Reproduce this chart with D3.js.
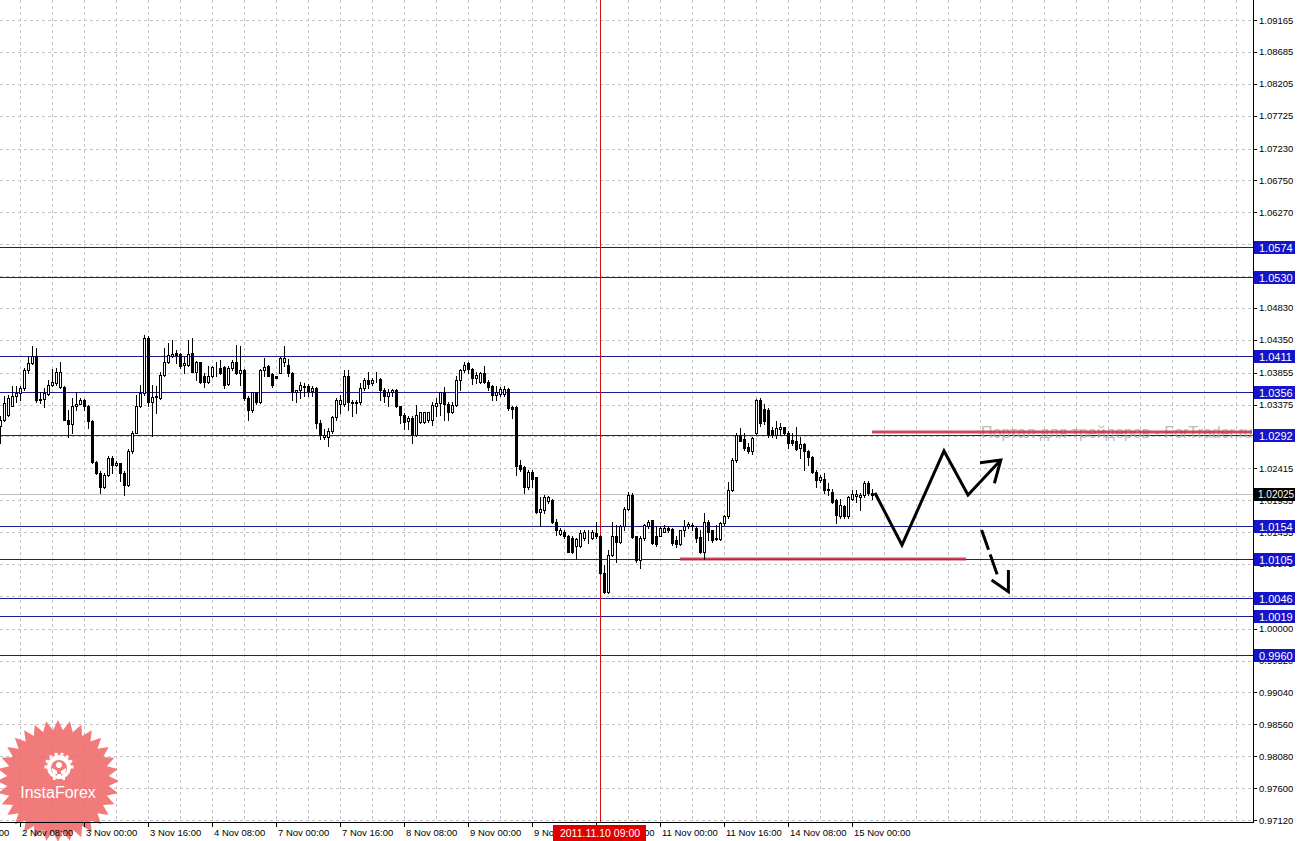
<!DOCTYPE html>
<html>
<head>
<meta charset="utf-8">
<script src="https://cdn.jsdelivr.net/npm/d3@7"></script>
<style>
  body{margin:0;background:#fff;overflow:hidden}
  text{font-family:"Liberation Sans",Arial,sans-serif}
</style>
</head>
<body>
<div class="chart"></div>
<script>
// EURUSD-like H1 candles, bar 0 = 2 Nov 03:00
const open = [
1.0305,1.0315,1.0322,1.0336,1.0350,1.0355,1.0362,1.0390,1.0400,1.0410,1.0346,1.0346,1.0354,1.0367,1.0370,1.0364,1.0364,1.0315,1.0308,1.0335,
1.0339,1.0345,1.0336,1.0312,1.0251,1.0235,1.0214,1.0232,1.0257,1.0247,1.0249,1.0235,1.0217,1.0267,1.0294,1.0336,1.0355,1.0437,1.0342,1.0349,
1.0347,1.0382,1.0402,1.0411,1.0415,1.0414,1.0397,1.0397,1.0415,1.0387,1.0401,1.0380,1.0371,1.0380,1.0392,1.0393,1.0394,1.0369,1.0392,1.0401,
1.0385,1.0390,1.0347,1.0330,1.0356,1.0341,1.0389,1.0395,1.0383,1.0380,1.0385,1.0402,1.0397,1.0385,1.0356,1.0359,1.0366,1.0365,1.0358,1.0362,
1.0310,1.0289,1.0289,1.0297,1.0319,1.0338,1.0338,1.0381,1.0342,1.0340,1.0341,1.0362,1.0375,1.0370,1.0375,1.0376,1.0359,1.0351,1.0356,1.0359,
1.0335,1.0322,1.0312,1.0317,1.0292,1.0311,1.0311,1.0314,1.0315,1.0336,1.0340,1.0356,1.0339,1.0327,1.0337,1.0374,1.0389,1.0400,1.0391,1.0377,
1.0372,1.0385,1.0372,1.0366,1.0352,1.0354,1.0354,1.0361,1.0334,1.0334,1.0246,1.0243,1.0214,1.0236,1.0228,1.0176,1.0179,1.0192,1.0194,1.0161,
1.0143,1.0146,1.0140,1.0136,1.0125,1.0124,1.0136,1.0139,1.0136,1.0144,1.0139,1.0084,1.0056,1.0111,1.0139,1.0131,1.0154,1.0181,1.0201,1.0139,
1.0104,1.0136,1.0155,1.0163,1.0140,1.0140,1.0146,1.0151,1.0150,1.0134,1.0128,1.0148,1.0154,1.0156,1.0151,1.0138,1.0116,1.0161,1.0148,1.0135,
1.0135,1.0159,1.0169,1.0209,1.0254,1.0292,1.0285,1.0274,1.0267,1.0294,1.0344,1.0331,1.0329,1.0299,1.0292,1.0300,1.0303,1.0295,1.0284,1.0283,
1.0272,1.0278,1.0267,1.0259,1.0236,1.0224,1.0226,1.0209,1.0206,1.0194,1.0169,1.0185,1.0169,1.0196,1.0200,1.0199,1.0201,1.0219,1.0204]
const high = [
1.0320,1.0350,1.0352,1.0365,1.0366,1.0366,1.0392,1.0410,1.0426,1.0422,1.0357,1.0362,1.0375,1.0391,1.0392,1.0402,1.0365,1.0330,1.0347,1.0357,
1.0347,1.0346,1.0337,1.0314,1.0252,1.0237,1.0235,1.0260,1.0260,1.0252,1.0250,1.0237,1.0270,1.0297,1.0352,1.0367,1.0442,1.0440,1.0367,1.0366,
1.0386,1.0422,1.0430,1.0434,1.0420,1.0415,1.0409,1.0435,1.0437,1.0403,1.0402,1.0385,1.0395,1.0396,1.0402,1.0404,1.0395,1.0395,1.0405,1.0427,
1.0425,1.0391,1.0350,1.0357,1.0357,1.0391,1.0407,1.0397,1.0385,1.0381,1.0409,1.0425,1.0406,1.0387,1.0360,1.0372,1.0370,1.0368,1.0365,1.0364,
1.0314,1.0300,1.0302,1.0321,1.0347,1.0352,1.0390,1.0389,1.0345,1.0345,1.0370,1.0377,1.0386,1.0377,1.0386,1.0377,1.0362,1.0361,1.0361,1.0361,
1.0336,1.0325,1.0320,1.0320,1.0337,1.0327,1.0327,1.0327,1.0342,1.0347,1.0357,1.0364,1.0341,1.0341,1.0380,1.0391,1.0402,1.0402,1.0392,1.0387,
1.0387,1.0395,1.0375,1.0367,1.0365,1.0364,1.0365,1.0362,1.0336,1.0336,1.0254,1.0245,1.0239,1.0239,1.0229,1.0199,1.0201,1.0200,1.0195,1.0165,
1.0151,1.0149,1.0141,1.0139,1.0136,1.0149,1.0148,1.0149,1.0148,1.0161,1.0141,1.0096,1.0119,1.0161,1.0156,1.0156,1.0184,1.0206,1.0204,1.0140,
1.0139,1.0157,1.0164,1.0164,1.0154,1.0154,1.0156,1.0154,1.0151,1.0139,1.0149,1.0163,1.0161,1.0159,1.0154,1.0149,1.0174,1.0164,1.0149,1.0156,
1.0161,1.0171,1.0221,1.0257,1.0294,1.0302,1.0294,1.0279,1.0289,1.0346,1.0347,1.0339,1.0333,1.0304,1.0312,1.0309,1.0304,1.0297,1.0294,1.0304,
1.0289,1.0280,1.0269,1.0260,1.0239,1.0231,1.0234,1.0219,1.0211,1.0196,1.0196,1.0186,1.0200,1.0209,1.0209,1.0204,1.0223,1.0223,1.0211]
const low = [
1.0280,1.0312,1.0320,1.0335,1.0342,1.0344,1.0360,1.0385,1.0399,1.0342,1.0340,1.0334,1.0352,1.0365,1.0367,1.0362,1.0314,1.0289,1.0294,1.0330,
1.0338,1.0330,1.0302,1.0250,1.0233,1.0205,1.0212,1.0230,1.0235,1.0245,1.0222,1.0202,1.0215,1.0264,1.0294,1.0334,1.0352,1.0335,1.0290,1.0325,
1.0346,1.0380,1.0400,1.0409,1.0400,1.0392,1.0385,1.0395,1.0386,1.0375,1.0370,1.0364,1.0370,1.0379,1.0380,1.0383,1.0362,1.0367,1.0390,1.0383,
1.0367,1.0345,1.0314,1.0327,1.0339,1.0340,1.0380,1.0380,1.0364,1.0377,1.0385,1.0395,1.0380,1.0345,1.0341,1.0348,1.0350,1.0350,1.0350,1.0302,
1.0285,1.0285,1.0275,1.0295,1.0315,1.0325,1.0335,1.0330,1.0320,1.0325,1.0339,1.0360,1.0362,1.0367,1.0371,1.0345,1.0342,1.0336,1.0350,1.0334,
1.0310,1.0300,1.0300,1.0280,1.0290,1.0310,1.0309,1.0311,1.0307,1.0320,1.0322,1.0315,1.0315,1.0325,1.0336,1.0359,1.0387,1.0385,1.0369,1.0370,
1.0370,1.0370,1.0360,1.0345,1.0345,1.0350,1.0350,1.0330,1.0317,1.0232,1.0238,1.0204,1.0211,1.0214,1.0174,1.0154,1.0174,1.0190,1.0159,1.0141,
1.0141,1.0136,1.0115,1.0114,1.0105,1.0123,1.0134,1.0129,1.0135,1.0136,1.0082,1.0054,1.0054,1.0109,1.0101,1.0129,1.0149,1.0179,1.0136,1.0101,
1.0091,1.0134,1.0151,1.0128,1.0124,1.0139,1.0145,1.0146,1.0126,1.0123,1.0126,1.0139,1.0151,1.0149,1.0131,1.0114,1.0105,1.0134,1.0131,1.0134,
1.0134,1.0156,1.0166,1.0208,1.0251,1.0282,1.0269,1.0264,1.0263,1.0293,1.0305,1.0308,1.0288,1.0289,1.0287,1.0292,1.0292,1.0272,1.0277,1.0269,
1.0257,1.0239,1.0247,1.0234,1.0214,1.0221,1.0204,1.0201,1.0189,1.0159,1.0166,1.0166,1.0166,1.0194,1.0191,1.0179,1.0199,1.0201,1.0196]
const close = [
1.0315,1.0340,1.0347,1.0350,1.0355,1.0362,1.0390,1.0400,1.0410,1.0344,1.0344,1.0355,1.0367,1.0371,1.0386,1.0387,1.0315,1.0308,1.0336,1.0339,
1.0345,1.0336,1.0312,1.0251,1.0235,1.0214,1.0232,1.0257,1.0247,1.0250,1.0235,1.0217,1.0267,1.0294,1.0336,1.0355,1.0437,1.0342,1.0349,1.0350,
1.0382,1.0402,1.0412,1.0413,1.0412,1.0396,1.0400,1.0414,1.0387,1.0402,1.0372,1.0371,1.0380,1.0394,1.0393,1.0385,1.0367,1.0392,1.0401,1.0385,
1.0390,1.0347,1.0330,1.0356,1.0341,1.0390,1.0394,1.0381,1.0367,1.0378,1.0407,1.0407,1.0385,1.0356,1.0359,1.0367,1.0364,1.0358,1.0362,1.0310,
1.0291,1.0292,1.0297,1.0319,1.0344,1.0345,1.0381,1.0341,1.0340,1.0342,1.0362,1.0375,1.0369,1.0375,1.0374,1.0359,1.0351,1.0357,1.0359,1.0335,
1.0322,1.0311,1.0317,1.0291,1.0322,1.0326,1.0326,1.0326,1.0337,1.0340,1.0356,1.0339,1.0327,1.0337,1.0374,1.0389,1.0397,1.0391,1.0377,1.0382,
1.0385,1.0371,1.0364,1.0352,1.0357,1.0361,1.0361,1.0332,1.0331,1.0245,1.0240,1.0214,1.0236,1.0226,1.0175,1.0180,1.0199,1.0199,1.0160,1.0149,
1.0148,1.0139,1.0116,1.0116,1.0135,1.0144,1.0146,1.0140,1.0146,1.0139,1.0084,1.0056,1.0111,1.0139,1.0131,1.0154,1.0181,1.0201,1.0138,1.0104,
1.0136,1.0156,1.0161,1.0129,1.0128,1.0151,1.0152,1.0148,1.0129,1.0128,1.0148,1.0154,1.0158,1.0154,1.0136,1.0116,1.0161,1.0146,1.0134,1.0137,
1.0159,1.0169,1.0209,1.0254,1.0292,1.0283,1.0272,1.0267,1.0287,1.0345,1.0309,1.0312,1.0292,1.0292,1.0302,1.0303,1.0294,1.0279,1.0280,1.0270,
1.0278,1.0267,1.0259,1.0236,1.0224,1.0228,1.0209,1.0211,1.0191,1.0171,1.0186,1.0169,1.0198,1.0203,1.0203,1.0201,1.0219,1.0204,1.0202]

const bidPrice = 1.02025
const priceTicks = [1.09165,1.08685,1.08205,1.07725,1.07230,1.06750,1.06270,1.05790,1.05310,1.04830,1.04350,1.03855,1.03375,
    1.02895,1.02415,1.01935,1.01455,1.00975,1.00495,1.00000,0.99520,0.99040,0.98560,0.98080,0.97600,0.97120]
const levels = [1.0574,1.0530,1.0411,1.0356,1.0292,1.0154,1.0105,1.0046,1.0019,0.9960]
const timeTickBars = [-11,5,21,37,53,69,85,101,117,133,149,165,181,197,213]
const timeTickLabels = ['1 Nov 16:00','2 Nov 08:00','3 Nov 00:00','3 Nov 16:00','4 Nov 08:00','7 Nov 00:00','7 Nov 16:00',
    '8 Nov 08:00','9 Nov 00:00','9 Nov 16:00','10 Nov 08:00','11 Nov 00:00','11 Nov 16:00','14 Nov 08:00','15 Nov 00:00']
const cursorBar = 150, cursorLabel = '2011.11.10 09:00'

// hand drawn analysis
const redLevelFrom = [218,170], redLevelTo = [313,241.5], redLevelPrice = [1.0296,1.0105]
const zigzagBars = [218.75,225.5,236,242,250.2], zigzagPrices = [1.02043,1.01260,1.02676,1.02013,1.02540]
const upHeadBars = [245,250.2,248.6], upHeadPrices = [1.02500,1.02540,1.02190]
const downBars = [245.4,249.6], downPrices = [1.01486,1.00764]
const downHeadBars = [252.1,252.1,247.9], downHeadPrices = [1.00884,1.00557,1.00734]

const width = 1299, height = 841
const plotRight = 1253, plotBottom = 822

const svg = d3.select('.chart')
    .append('svg')
        .attr('width', width)
        .attr('height', height)
        .style('display','block')

const x = d3.scaleLinear().domain([0,1]).range([0,4])
const y = d3.scaleLinear().domain([0.97120,1.09165]).range([820,20])
const px = v => Math.round(v)+0.5

const bars = open.map((o,i)=>({i:i, o:o, h:high[i], l:low[i], c:close[i]}))

// grid
const grid = svg.append('g').attr('stroke','#c4c4c4').attr('stroke-dasharray','3,3').attr('shape-rendering','crispEdges')
grid.selectAll('line.h')
    .data(priceTicks)
    .join('line')
        .attr('x1',0).attr('x2',plotRight)
        .attr('y1',d=>px(y(d))).attr('y2',d=>px(y(d)))
grid.selectAll('line.v')
    .data(d3.range(5,313,8))
    .join('line')
        .attr('class','v')
        .attr('x1',d=>px(x(d))).attr('x2',d=>px(x(d)))
        .attr('y1',0).attr('y2',plotBottom)

// logo
const logoFill = '#f06868'
const logo = svg.append('g').attr('opacity',0.88)
const logoC = [58,781]
const starPts = d3.range(64).map(k=>{
    const a = k*Math.PI/32 - Math.PI/2
    const r = k%2===0 ? 61 : 51
    return [logoC[0]+r*Math.cos(a), logoC[1]+r*Math.sin(a)]
})
logo.append('path')
    .attr('d','M'+starPts.join('L')+'Z')
    .attr('fill',logoFill)
const ic = [logoC[0]+1, logoC[1]-14]
logo.append('circle').attr('cx',ic[0]).attr('cy',ic[1]).attr('r',12).attr('fill','#fff')
logo.append('circle').attr('cx',ic[0]).attr('cy',ic[1]+1).attr('r',8).attr('fill',logoFill)
d3.range(8).forEach(k=>{
    const a = -Math.PI + k*Math.PI/7
    logo.append('rect')
        .attr('x',ic[0]+13*Math.cos(a)-1.5).attr('y',ic[1]+13*Math.sin(a)-1.5)
        .attr('width',3).attr('height',3).attr('fill','#fff')
})
logo.append('circle').attr('cx',ic[0]).attr('cy',ic[1]-2).attr('r',3).attr('fill','#fff')
logo.append('path')
    .attr('d',`M${ic[0]-7},${ic[1]+1} L${ic[0]-2},${ic[1]+4} L${ic[0]-2},${ic[1]+12} L${ic[0]+2},${ic[1]+12} L${ic[0]+2},${ic[1]+4} L${ic[0]+7},${ic[1]+1} L${ic[0]+7},${ic[1]+4} L${ic[0]+3},${ic[1]+7} L${ic[0]-3},${ic[1]+7} L${ic[0]-7},${ic[1]+4}Z`)
    .attr('fill','#fff')
logo.append('rect').attr('x',ic[0]-6).attr('y',ic[1]+5).attr('width',2.5).attr('height',8).attr('fill','#fff')
logo.append('rect').attr('x',ic[0]+3.5).attr('y',ic[1]+5).attr('width',2.5).attr('height',8).attr('fill','#fff')
logo.append('text')
    .attr('x',logoC[0]).attr('y',logoC[1]+17)
    .attr('text-anchor','middle')
    .attr('font-size',16)
    .attr('fill','#fff')
    .text('InstaForex')

// bid line
svg.append('line')
    .attr('x1',0).attr('x2',plotRight)
    .attr('y1',px(y(bidPrice))).attr('y2',px(y(bidPrice)))
    .attr('stroke','#c0c0c0').attr('shape-rendering','crispEdges')

// horizontal levels
svg.append('g').selectAll('line')
    .data(levels)
    .join('line')
        .attr('x1',0).attr('x2',plotRight)
        .attr('y1',d=>px(y(d))).attr('y2',d=>px(y(d)))
        .attr('stroke','#1c1c90')
        .attr('shape-rendering','crispEdges')

// cursor line
svg.append('line')
    .attr('x1',px(x(cursorBar))).attr('x2',px(x(cursorBar)))
    .attr('y1',0).attr('y2',plotBottom)
    .attr('stroke','#d01010').attr('shape-rendering','crispEdges')

// watermark
svg.append('text')
    .attr('x',981).attr('y',438)
    .attr('font-size',16)
    .attr('fill','#a8a8a8')
    .attr('fill-opacity',0.8)
    .text('Портал для трейдеров - ForTrader.ru')

// red levels
svg.append('g').selectAll('line')
    .data(redLevelPrice)
    .join('line')
        .attr('x1',(d,i)=>x(redLevelFrom[i])).attr('x2',(d,i)=>x(redLevelTo[i]))
        .attr('y1',d=>y(d)).attr('y2',d=>y(d))
        .attr('stroke','#c8283c').attr('stroke-opacity',0.85)
        .attr('stroke-width',3)

// candles
const cg = svg.append('g').attr('shape-rendering','crispEdges')
cg.selectAll('line')
    .data(bars)
    .join('line')
        .attr('x1',d=>x(d.i)+0.5).attr('x2',d=>x(d.i)+0.5)
        .attr('y1',d=>Math.round(y(d.h))).attr('y2',d=>Math.round(y(d.l))+1)
        .attr('stroke','#000')
cg.selectAll('rect')
    .data(bars)
    .join('rect')
        .attr('x',d=>x(d.i)-0.5)
        .attr('width',2)
        .attr('y',d=>Math.round(y(Math.max(d.o,d.c)))+0.5)
        .attr('height',d=>Math.max(0,Math.round(y(Math.min(d.o,d.c)))-Math.round(y(Math.max(d.o,d.c)))))
        .attr('fill',d=>d.c>=d.o?'#fff':'#000')
        .attr('stroke','#000')

// forecast drawing
const line = d3.line().x(d=>x(d[0])).y(d=>y(d[1]))
const draw = svg.append('g').attr('fill','none').attr('stroke','#000').attr('stroke-width',3).attr('stroke-linejoin','miter')
draw.append('path').attr('d',line(zigzagBars.map((b,i)=>[b,zigzagPrices[i]])))
draw.append('path').attr('d',line(upHeadBars.map((b,i)=>[b,upHeadPrices[i]])))
draw.append('path').attr('d',line(downBars.map((b,i)=>[b,downPrices[i]]))).attr('stroke-dasharray','21,5')
draw.append('path').attr('d',line(downHeadBars.map((b,i)=>[b,downHeadPrices[i]])))

// axes
const ax = svg.append('g').attr('shape-rendering','crispEdges')
ax.append('line').attr('x1',plotRight+0.5).attr('x2',plotRight+0.5).attr('y1',0).attr('y2',plotBottom+1).attr('stroke','#000')
ax.append('line').attr('x1',0).attr('x2',plotRight+1).attr('y1',plotBottom+0.5).attr('y2',plotBottom+0.5).attr('stroke','#000')

ax.selectAll('line.pt')
    .data(priceTicks)
    .join('line')
        .attr('class','pt')
        .attr('x1',plotRight).attr('x2',plotRight+4)
        .attr('y1',d=>px(y(d))).attr('y2',d=>px(y(d)))
        .attr('stroke','#000')
// tick labels that sit fully under a level box are not shown
const shownTicks = priceTicks.filter(t=>!levels.some(l=>Math.abs(y(l)-y(t))<4.5))
svg.append('g').selectAll('text')
    .data(shownTicks)
    .join('text')
        .attr('x',plotRight+6)
        .attr('y',d=>y(d)+3.5)
        .attr('font-size',9.5)
        .attr('fill','#000')
        .text(d=>d.toFixed(5))

ax.selectAll('line.tt')
    .data(timeTickBars)
    .join('line')
        .attr('class','tt')
        .attr('x1',d=>px(x(d))).attr('x2',d=>px(x(d)))
        .attr('y1',plotBottom).attr('y2',plotBottom+5)
        .attr('stroke','#000')
svg.append('g').selectAll('text')
    .data(timeTickBars)
    .join('text')
        .attr('x',d=>x(d)+2)
        .attr('y',836)
        .attr('font-size',9.5)
        .attr('fill','#000')
        .text((d,i)=>timeTickLabels[i])

// level labels
const lab = svg.append('g')
lab.selectAll('rect')
    .data(levels)
    .join('rect')
        .attr('x',plotRight+1).attr('width',41)
        .attr('y',d=>Math.round(y(d))-6).attr('height',13)
        .attr('fill','#1414c8')
lab.selectAll('text')
    .data(levels)
    .join('text')
        .attr('x',plotRight+6)
        .attr('y',d=>Math.round(y(d))+4.5)
        .attr('font-size',11)
        .attr('fill','#fff')
        .text(d=>d.toFixed(4))

// bid label
svg.append('rect')
    .attr('x',plotRight+1).attr('width',41)
    .attr('y',Math.round(y(bidPrice))-6).attr('height',13)
    .attr('fill','#000')
svg.append('text')
    .attr('x',plotRight+5).attr('y',Math.round(y(bidPrice))+4)
    .attr('font-size',10)
    .attr('fill','#fff')
    .text(bidPrice.toFixed(5))

// cursor time label
svg.append('rect')
    .attr('x',x(cursorBar)-47).attr('y',plotBottom+3)
    .attr('width',93).attr('height',16)
    .attr('fill','#e00000')
svg.append('text')
    .attr('x',x(cursorBar)).attr('y',plotBottom+15)
    .attr('text-anchor','middle')
    .attr('font-size',10.5)
    .attr('fill','#fff')
    .text(cursorLabel)
</script>
</body>
</html>
